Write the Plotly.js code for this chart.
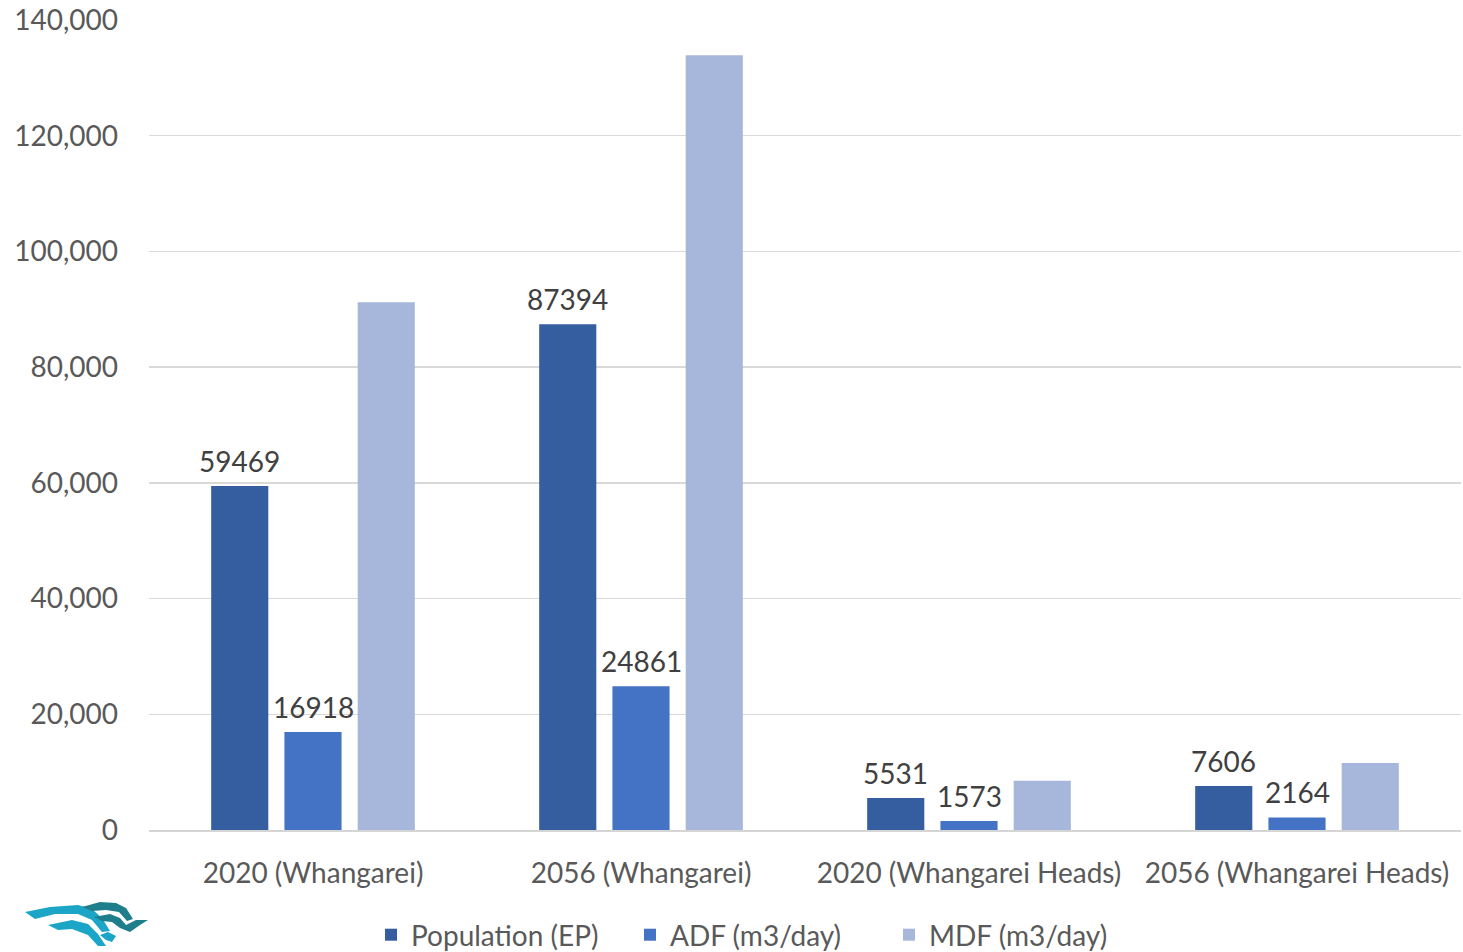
<!DOCTYPE html>
<html>
<head>
<meta charset="utf-8">
<script src="https://cdn.plot.ly/plotly-3.0.1.min.js"></script>
<style>html,body{margin:0;padding:0;background:#fff;}#chart{width:1463px;height:952px;}</style>
</head>
<body>
<div id="chart"></div>
<script>
const categories = ["2020 (Whangarei)", "2056 (Whangarei)", "2020 (Whangarei Heads)", "2056 (Whangarei Heads)"];
const population = [59469, 87394, 5531, 7606];
const adf = [16918, 24861, 1573, 2164];
const mdf = [91200, 133900, 8500, 11600];
const yTicks = [0, 20000, 40000, 60000, 80000, 100000, 120000, 140000];

const FONT = "Lato, 'Open Sans', sans-serif";
const W = 1463, H = 952;
const L = 149, R = 2, T = 20, B = 122;
const pw = W - L - R, ph = H - T - B;
const BARGAP = 0.33;
const slot = (pw / categories.length) * (1 - BARGAP) / 3;
function px(x){ return (x - L) / pw; }
function py(y){ return (H - B - y) / ph; }
function pathFrom(pts){
  return 'M ' + pts.map(p => px(p[0]).toFixed(5) + ',' + py(p[1]).toFixed(5)).join(' L ') + ' Z';
}

const labelFont = {family:FONT, size:28, color:'#404040'};
const traces = [
  {type:'bar', name:'Population (EP)', x:categories, y:population, marker:{color:'#355EA0'}},
  {type:'bar', name:'ADF (m3/day)', x:categories, y:adf, marker:{color:'#4472C4'}},
  {type:'bar', name:'MDF (m3/day)', x:categories, y:mdf, marker:{color:'#A7B6DB'}}
];

const annotations = [];
categories.forEach((c, i) => {
  annotations.push({x:c, y:population[i], xref:'x', yref:'y', text:String(population[i]),
    showarrow:false, yanchor:'bottom', xshift:-slot, yshift:6, font:labelFont});
  annotations.push({x:c, y:adf[i], xref:'x', yref:'y', text:String(adf[i]),
    showarrow:false, yanchor:'bottom', xshift:0, yshift:6, font:labelFont});
});

const logoLight = '#1BA5C6', logoDark = '#1E7E8C';
const shapes = [
  {type:'path', xref:'paper', yref:'paper', fillcolor:logoLight, line:{width:0},
   path: pathFrom([[25,912],[50,907],[78,905],[92,909],[102,918],[110,931],[102,932],[92,920],[78,914],[55,914],[35,919]])},
  {type:'path', xref:'paper', yref:'paper', fillcolor:logoLight, line:{width:0},
   path: pathFrom([[48,925],[72,920],[88,924],[98,934],[106,946],[98,946],[88,935],[72,929],[58,930]])},
  {type:'path', xref:'paper', yref:'paper', fillcolor:logoDark, line:{width:0},
   path: pathFrom([[82,907],[100,902],[116,903],[126,908],[133,919],[127,921],[119,912],[106,910],[92,911]])},
  {type:'path', xref:'paper', yref:'paper', fillcolor:logoDark, line:{width:0},
   path: pathFrom([[94,917],[110,914],[120,918],[126,925],[136,920],[148,920],[140,925],[130,932],[120,928],[112,922],[102,921]])},
  {type:'path', xref:'paper', yref:'paper', fillcolor:logoLight, line:{width:0},
   path: pathFrom([[100,935],[108,932],[116,936],[112,942],[106,940]])}
];

const layout = {
  width: W, height: H,
  margin: {l:L, r:R, t:T, b:B, pad:0, autoexpand:false},
  paper_bgcolor:'#ffffff', plot_bgcolor:'#ffffff',
  font: {family: FONT, size: 28, color:'#595959'},
  barmode:'group', bargap:BARGAP, bargroupgap:0.22,
  showlegend:true,
  legend: {orientation:'h', x:px(371), xanchor:'left', y:py(935), yanchor:'middle',
           font:{family:FONT, size:28, color:'#595959'}, itemwidth:30,
           entrywidth:214, entrywidthmode:'pixels', traceorder:'normal'},
  xaxis: {type:'category', showgrid:false, showline:true, linecolor:'#D5D5D5', linewidth:2,
          ticks:'', ticklabelstandoff:17, tickfont:{family:FONT, size:28, color:'#595959'},
          automargin:false, fixedrange:true},
  yaxis: {range:[0,140000], tickvals:yTicks, ticktext:yTicks.map(v => v.toLocaleString('en-US')),
          showgrid:true, gridcolor:'#D9D9D9', gridwidth:1.5, zeroline:false, showline:false,
          ticks:'', ticklabelstandoff:30, tickfont:{family:FONT, size:28, color:'#595959'},
          automargin:false, fixedrange:true},
  shapes: shapes,
  annotations: annotations
};

Plotly.newPlot('chart', traces, layout, {displayModeBar:false, staticPlot:true});
</script>
</body>
</html>
